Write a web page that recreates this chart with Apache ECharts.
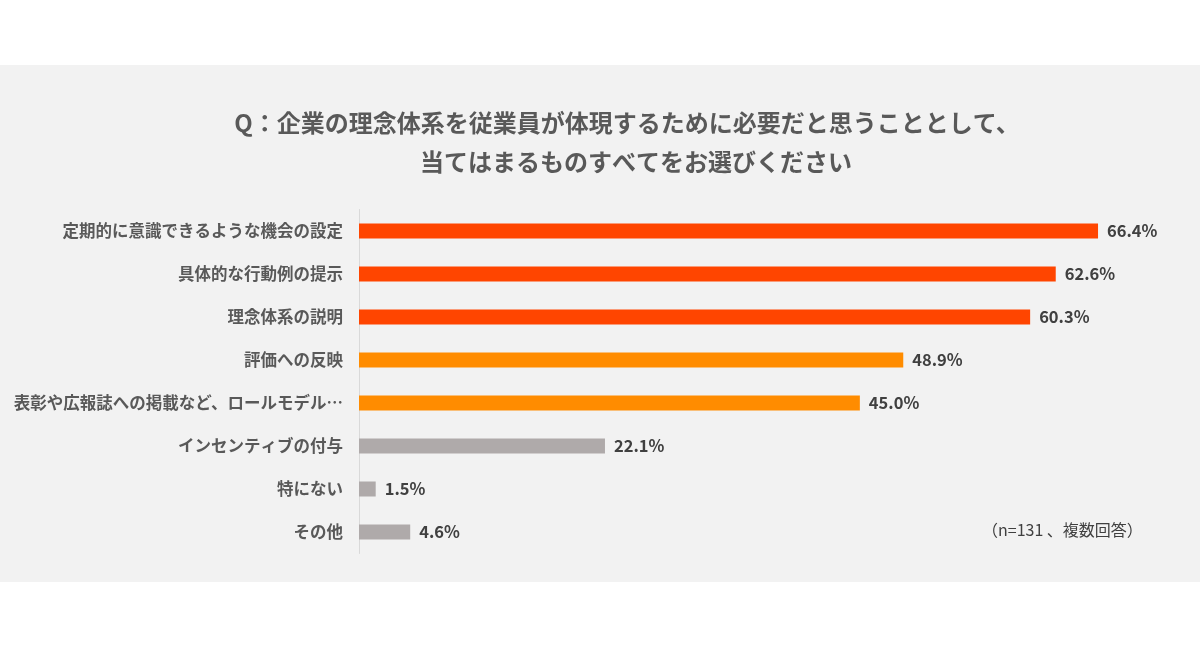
<!DOCTYPE html>
<html><head><meta charset="utf-8">
<script src="https://cdn.jsdelivr.net/npm/echarts@6/dist/echarts.min.js"></script>
<style>html,body{margin:0;padding:0;background:#fff;}#c{width:1200px;height:650px;}</style>
</head><body><div id="c"></div>
<script>
const categories = ["定期的に意識できるような機会の設定","具体的な行動例の提示","理念体系の説明","評価への反映","表彰や広報誌への掲載など、ロールモデル…","インセンティブの付与","特にない","その他"];
const values = [66.4, 62.6, 60.3, 48.9, 45.0, 22.1, 1.5, 4.6];
const barColors = ["#FF4500","#FF4500","#FF4500","#FF8C00","#FF8C00","#AFAAAA","#AFAAAA","#AFAAAA"];
const titleLines = ["Q：企業の理念体系を従業員が体現するために必要だと思うこととして、","当てはまるものすべてをお選びください"];
const note = "（n=131 、複数回答）";

const font = '"Noto Sans CJK JP", "Noto Sans", sans-serif';
const chart = echarts.init(document.getElementById('c'));
chart.setOption({
  backgroundColor: '#ffffff',
  animation: false,
  graphic: [
    {type:'rect', shape:{x:0,y:65,width:1200,height:517}, style:{fill:'#F2F2F2'}, z:-10},
    {type:'text', x:627, y:123, style:{text:titleLines[0], font:'bold 24px '+font, fill:'#595959', align:'center', verticalAlign:'middle'}},
    {type:'text', x:636, y:162, style:{text:titleLines[1], font:'bold 24px '+font, fill:'#595959', align:'center', verticalAlign:'middle'}},
    {type:'text', x:982, y:530, style:{text:note, font:'16px '+font, fill:'#404040', verticalAlign:'middle'}}
  ],
  grid: {left:359, top:209.5, width:779.1, height:344},
  xAxis: {type:'value', min:0, max:70, show:false},
  yAxis: {
    type:'category', data:categories, inverse:true,
    axisLine:{show:true, lineStyle:{color:'#D9D9D9', width:1}},
    axisTick:{show:false},
    axisLabel:{color:'#595959', fontSize:16.5, fontWeight:'bold', fontFamily:font, margin:16}
  },
  series: [{
    type:'bar', data: values.map((v,i)=>({value:v, itemStyle:{color:barColors[i]}})),
    barWidth:15,
    label:{show:true, position:'right', distance:9, formatter:p=>p.value.toFixed(1)+'%', color:'#404040', fontSize:16.5, fontWeight:'bold', fontFamily:font}
  }]
});
</script></body></html>
